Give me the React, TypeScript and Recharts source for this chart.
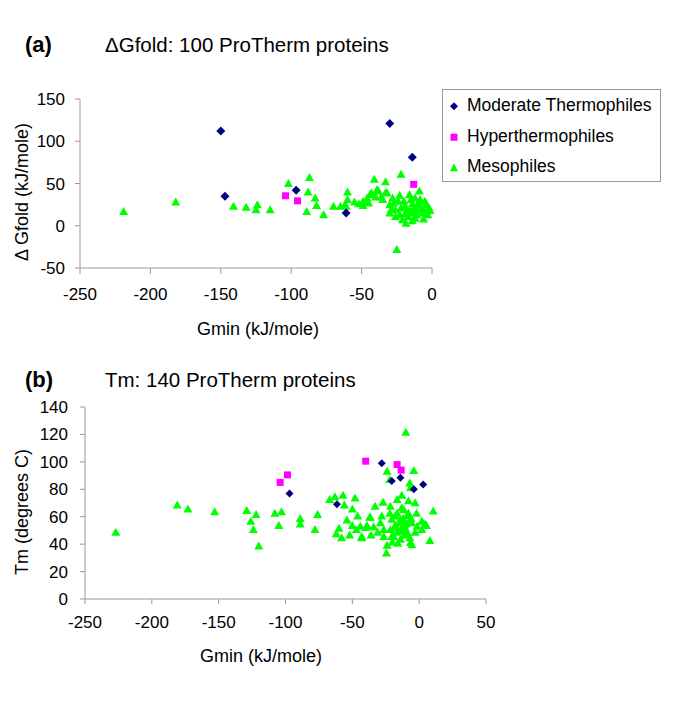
import React from 'react'
import { ScatterChart, Scatter, XAxis, YAxis } from 'recharts'

// panel (a): Gmin vs dGfold
const modA = [[-150, 112], [-30, 121], [-14, 81], [-147, 35], [-96.5, 42], [-61, 15]]
const hypA = [[-104, 35.5], [-95.5, 29.5], [-13, 49]]
const mesA = [
  [-219, 16], [-182, 27], [-141, 22], [-132, 21], [-124, 24], [-125, 18], [-115, 18],
  [-102, 49], [-87, 56], [-88, 39], [-83, 32], [-82, 23], [-89, 16], [-77, 12], [-70, 22],
  [-65, 22], [-61, 22], [-60, 39], [-60, 30], [-55, 27], [-62, 23], [-49, 28], [-49, 23],
  [-46, 32], [-44, 36], [-43, 38], [-41, 54], [-39, 42], [-38, 40], [-36, 33], [-33, 51],
  [-33, 38], [-32, 38], [-30, 24], [-30, 14], [-29, 18], [-26, 18], [-23, 35], [-23, 12],
  [-22, 60], [-22, 20], [-25, -29], [-18, 16], [-18.5, 2], [-17, 10], [-16, 36], [-14, 25],
  [-13, 14], [-13, 20], [-12, 8], [-11, 22], [-11, 12], [-9, 40], [-8.5, 30], [-7, 14],
  [-6, 7], [-5, 28], [-4, 24], [-1.5, 17], [-20, 28], [-27, 26], [-35, 30], [-40, 33],
  [-45, 26], [-52, 25], [-10, 18], [-15, 30], [-19, 22], [-24, 28], [-3, 12], [-8, 20],
  [-14, 5], [-26, 10], [-21, 6], [-9, 26], [-2, 20], [-28, 32], [-16, 17], [-6, 18],
  [-12, 32], [-19, 13],
]

// panel (b): Gmin vs Tm
const modB = [[-97, 77], [-28, 99], [-14, 88.5], [-4, 80], [3, 83.5], [-20.5, 86], [-61.5, 69]]
const hypB = [[-104, 85], [-98.5, 90.5], [-40, 100.5], [-16.5, 98], [-13.5, 94]]
const mesB = [
  [-227, 48], [-181, 68], [-173, 65], [-153, 63], [-129, 64], [-122, 61], [-126, 56],
  [-124, 50], [-120, 38], [-108, 62], [-103, 63], [-105, 53], [-89, 58], [-89, 54],
  [-78, 50], [-76, 61], [-67, 72], [-63, 74], [-57, 75], [-56, 68], [-48, 73], [-50, 65],
  [-46, 60], [-54, 57], [-60, 51], [-62, 47], [-58, 44], [-50, 53], [-43, 45], [-37, 59],
  [-39, 53], [-10, 121], [-24, 92.5], [-22, 86.5], [-4, 93], [-7, 84], [-6.5, 80.5],
  [-33, 67], [-27, 70], [-21.5, 67], [-16.5, 72], [-13, 75], [-8, 71], [-3, 69.5],
  [10.5, 63.5], [-36.5, 59], [-44, 52.5], [-40, 51.5], [-34, 52], [-29, 55], [-26.5, 50],
  [-20.5, 57.5], [-16.5, 62], [-14, 57.5], [-11.5, 64.5], [-9, 60], [-5.5, 55], [-1.5, 52.5],
  [2, 56], [5.5, 53], [8, 42], [-43, 44], [-26.5, 45], [-24, 38.5], [-24.5, 33], [-19, 45],
  [-13, 49], [-7, 44], [-5.5, 39], [-10.5, 51.5], [-16.5, 51.5], [-21.5, 50], [-3, 48],
  [2, 50], [-20.5, 45], [-16.5, 48], [-6.5, 40.5], [4.5, 54], [-18, 60], [-15, 55],
  [-12, 58], [-10, 54], [-8, 62], [-13, 66], [-18, 53], [-11, 46], [-14, 43], [-9, 48],
  [-31, 48], [-36, 46], [-47, 50], [-52, 46], [-22, 62], [-28, 60], [-6, 58], [-2, 62],
  [-16, 40], [-20, 41], [-12, 53], [-8, 55],
]

const toPts = (arr: number[][]) => arr.map(([x, y]) => ({ x, y }))

const FONT = 'Arial, "Liberation Sans", sans-serif'
const AXIS = '#999999'
const NAVY = '#000080'
const MAGENTA = '#FF00FF'
const LIME = '#00FF00'

const diamond = (r: number) => (p: any) => (
  <polygon
    points={`${p.cx},${p.cy - r} ${p.cx + r},${p.cy} ${p.cx},${p.cy + r} ${p.cx - r},${p.cy}`}
    fill={NAVY}
  />
)
const square = (s: number) => (p: any) => (
  <rect x={p.cx - s / 2} y={p.cy - s / 2} width={s} height={s} fill={MAGENTA} />
)
const triangle = (w: number, h: number) => (p: any) => (
  <polygon
    points={`${p.cx},${p.cy - (h * 2) / 3} ${p.cx + w / 2},${p.cy + h / 3} ${p.cx - w / 2},${p.cy + h / 3}`}
    fill={LIME}
  />
)

const tick = { fontSize: 17, fill: '#000', fontFamily: FONT }

const Txt = ({ x, y, children, size = 18, bold = false, rotate = false, left = false }: any) => (
  <div
    style={{
      position: 'absolute',
      left: x,
      top: y,
      transform: `${left ? 'translate(0, -50%)' : 'translate(-50%, -50%)'}${rotate ? ' rotate(-90deg)' : ''}`,
      fontFamily: FONT,
      fontSize: size,
      fontWeight: bold ? 'bold' : 'normal',
      whiteSpace: 'nowrap',
      color: '#000',
      lineHeight: 1,
    }}
  >
    {children}
  </div>
)

const LegendRow = ({ y, kind, label }: any) => (
  <div
    style={{
      position: 'absolute',
      left: 5,
      top: y,
      transform: 'translate(0, -50%)',
      display: 'flex',
      alignItems: 'center',
      whiteSpace: 'nowrap',
    }}
  >
    <svg width={12} height={12} style={{ marginRight: 7 }}>
      {kind === 'd' && <polygon points="6,2 10,6 6,10 2,6" fill={NAVY} />}
      {kind === 's' && <rect x={2.5} y={2.5} width={7} height={7} fill={MAGENTA} />}
      {kind === 't' && <polygon points="6,2 10,10 2,10" fill={LIME} />}
    </svg>
    <span style={{ fontFamily: FONT, fontSize: 17.5, lineHeight: 1 }}>{label}</span>
  </div>
)

export default function App() {
  return (
    <div style={{ position: 'absolute', left: 0, top: 0, width: 685, height: 706, background: '#fff' }}>
      <div style={{ position: 'absolute', left: 0, top: 0 }}>
        <ScatterChart width={685} height={340} margin={{ top: 99, right: 253, bottom: 42, left: 20 }}>
          <XAxis
            type="number"
            dataKey="x"
            domain={[-250, 0]}
            ticks={[-250, -200, -150, -100, -50, 0]}
            height={30}
            stroke={AXIS}
            tick={tick}
            tickSize={6}
            tickMargin={14}
          />
          <YAxis
            type="number"
            dataKey="y"
            domain={[-50, 150]}
            ticks={[-50, 0, 50, 100, 150]}
            width={60}
            stroke={AXIS}
            tick={tick}
            tickSize={5}
            tickMargin={10}
          />
          <Scatter data={toPts(mesA)} shape={triangle(9, 8)} isAnimationActive={false} />
          <Scatter data={toPts(hypA)} shape={square(7)} isAnimationActive={false} />
          <Scatter data={toPts(modA)} shape={diamond(4.5)} isAnimationActive={false} />
        </ScatterChart>
      </div>

      <div style={{ position: 'absolute', left: 0, top: 340 }}>
        <ScatterChart width={685} height={366} margin={{ top: 67, right: 199, bottom: 77, left: 25 }}>
          <XAxis
            type="number"
            dataKey="x"
            domain={[-250, 50]}
            ticks={[-250, -200, -150, -100, -50, 0, 50]}
            height={30}
            stroke={AXIS}
            tick={tick}
            tickSize={5}
            tickMargin={12}
          />
          <YAxis
            type="number"
            dataKey="y"
            domain={[0, 140]}
            ticks={[0, 20, 40, 60, 80, 100, 120, 140]}
            width={60}
            stroke={AXIS}
            tick={tick}
            tickSize={5}
            tickMargin={12}
          />
          <Scatter data={toPts(mesB)} shape={triangle(9, 8)} isAnimationActive={false} />
          <Scatter data={toPts(hypB)} shape={square(7)} isAnimationActive={false} />
          <Scatter data={toPts(modB)} shape={diamond(4)} isAnimationActive={false} />
        </ScatterChart>
      </div>

      <Txt x={25} y={45} size={22} bold left>(a)</Txt>
      <Txt x={105} y={45} size={20.5} left>ΔGfold: 100 ProTherm proteins</Txt>
      <Txt x={25} y={380} size={22} bold left>(b)</Txt>
      <Txt x={105} y={380} size={20.5} left>Tm: 140 ProTherm proteins</Txt>

      <Txt x={22} y={192} rotate>Δ Gfold (kJ/mole)</Txt>
      <Txt x={258} y={329}>Gmin (kJ/mole)</Txt>
      <Txt x={22} y={512} rotate>Tm (degrees C)</Txt>
      <Txt x={261} y={656}>Gmin (kJ/mole)</Txt>

      <div
        style={{
          position: 'absolute',
          left: 442,
          top: 89,
          width: 219,
          height: 93,
          border: `1px solid ${AXIS}`,
          boxSizing: 'border-box',
        }}
      >
        <LegendRow y={16} kind="d" label="Moderate Thermophiles" />
        <LegendRow y={47} kind="s" label="Hyperthermophiles" />
        <LegendRow y={77} kind="t" label="Mesophiles" />
      </div>
    </div>
  )
}
